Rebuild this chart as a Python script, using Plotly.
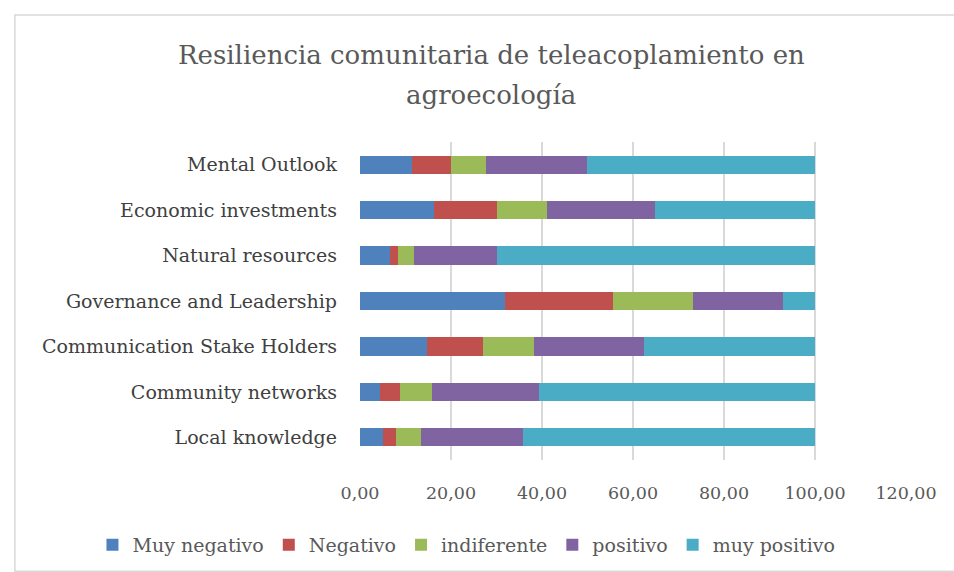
import plotly.graph_objects as go

categories = ["Mental Outlook", "Economic investments", "Natural resources",
              "Governance and Leadership", "Communication Stake Holders",
              "Community networks", "Local knowledge"]
series_names = ["Muy negativo", "Negativo", "indiferente", "positivo", "muy positivo"]
muy_negativo = [11.5, 16.3, 6.6, 31.8, 14.7, 4.4, 5.0]
negativo = [8.4, 13.7, 1.8, 23.7, 12.3, 4.5, 3.0]
indiferente = [7.9, 11.0, 3.5, 17.6, 11.3, 7.0, 5.3]
positivo = [22.0, 23.8, 18.1, 19.8, 24.2, 23.4, 22.5]
muy_positivo = [50.2, 35.2, 70.0, 7.1, 37.5, 60.7, 64.2]
tick_vals = [0, 20, 40, 60, 80, 100, 120]
tick_text = ["0,00", "20,00", "40,00", "60,00", "80,00", "100,00", "120,00"]
title_lines = ["Resiliencia comunitaria de teleacoplamiento en", "agroecología"]

colors = ["#4F81BD", "#C0504D", "#9BBB59", "#8064A2", "#4BACC6"]
values = [muy_negativo, negativo, indiferente, positivo, muy_positivo]

FONT = "DejaVu Serif"
fig = go.Figure()
for name, vals, c in zip(series_names, values, colors):
    fig.add_trace(go.Bar(y=categories, x=vals, name=name, orientation="h",
                         marker=dict(color=c, line=dict(width=0))))

annotations = [
    dict(text=title_lines[0], xref="paper", yref="paper", x=0.24, y=1.274,
         xanchor="center", yanchor="middle", showarrow=False,
         font=dict(size=26, color="#595959", family=FONT)),
    dict(text=title_lines[1], xref="paper", yref="paper", x=0.24, y=1.148,
         xanchor="center", yanchor="middle", showarrow=False,
         font=dict(size=26, color="#595959", family=FONT)),
]

fig.update_layout(
    barmode="stack",
    bargap=0.6,
    width=954, height=572,
    margin=dict(l=360, r=48, t=142, b=112, autoexpand=False),
    paper_bgcolor="white", plot_bgcolor="white",
    font=dict(family=FONT, color="#595959", size=17),
    xaxis=dict(range=[0, 120], tickvals=tick_vals, ticktext=tick_text, automargin=False,
               showgrid=True, gridcolor="#D9D9D9", gridwidth=1.5, zeroline=False,
               tickfont=dict(size=17.5, color="#595959"), ticks="", ticklabelstandoff=20),
    yaxis=dict(categoryorder="array", categoryarray=categories[::-1], automargin=False,
               showgrid=False, zeroline=False, ticks="", ticklabelstandoff=22,
               tickfont=dict(size=19, color="#404040")),
    legend=dict(orientation="h", x=-0.49, xanchor="left", y=-0.267, yanchor="middle",
                font=dict(size=19, color="#595959"), traceorder="normal"),
    annotations=annotations,
    shapes=[dict(type="rect", xref="paper", yref="paper",
                 x0=-0.632, x1=1.12, y0=-0.35, y1=1.399,
                 line=dict(color="#D9D9D9", width=1.5), fillcolor="rgba(0,0,0,0)", layer="below")],
)

fig.write_html("out.html", config={"displayModeBar": False},
               post_script="document.body.style.margin='0';")
